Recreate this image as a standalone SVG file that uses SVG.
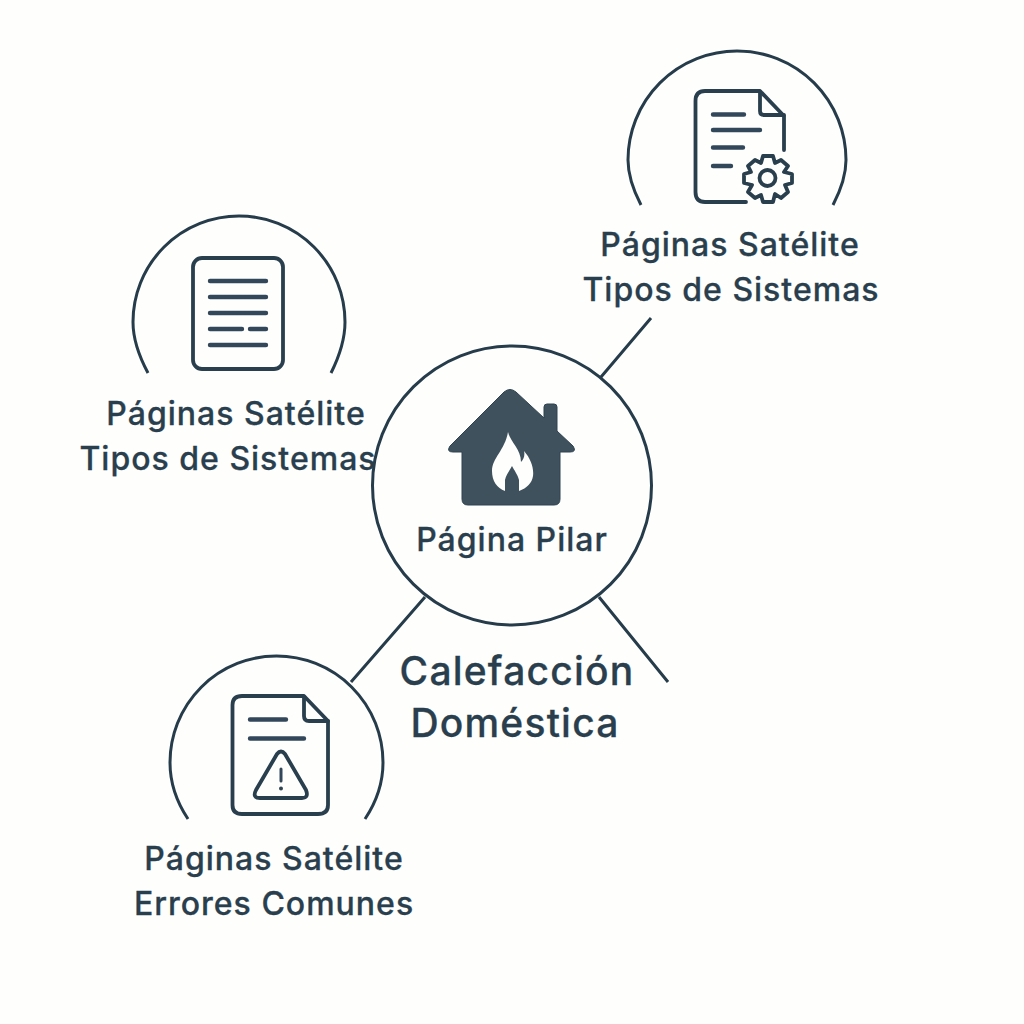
<svg xmlns="http://www.w3.org/2000/svg" width="1024" height="1024" viewBox="0 0 1024 1024">
<style>
.s{fill:none;stroke:#263c4a;stroke-width:3;stroke-linecap:butt}
.i{fill:none;stroke:#2a3f4d;stroke-width:3.8;stroke-linejoin:round;stroke-linecap:round}
.l{fill:none;stroke:#33475a;stroke-width:4.400;stroke-linecap:round}
text{font-family:Inter,"Liberation Sans",sans-serif;font-weight:500;fill:#2a3f4e;stroke:#2a3f4e;stroke-width:.3;text-anchor:middle;font-size:32px;letter-spacing:1px}
.t{font-size:39px;letter-spacing:1.200px}
</style>
<rect width="1024" height="1024" fill="#fefefd"/>
<g id="connectors">
<path class="s" d="M601 377L651 318M425 597L351 682M599 597L668 682"/>
</g>
<g id="pilar">
<circle class="s" cx="512" cy="485.500" r="139.500"/>
<path fill="#3f515d" stroke="#2f4351" d="M504 392Q510 387 516 392L544 418V407Q544 404 547 404H554Q557 404 557 407V431L573 446Q577 452 570 452H560V499Q560 505 554 505H468Q462 505 462 499V452H453Q446 452 450 446Z"/>
<path fill="#fefefd" d="M508 432C511 443 521 449 521 462C524 459 525 455 524 451C531 459 534 468 533 476C532 483 527 488 519 491V480C518 475 514 470 512 466C510 470 506 475 505 480V491C497 488 492 481 492 471C492 458 505 450 508 432Z"/>
<text x="512" y="551">Página Pilar</text>
<text class="t" x="517" y="685">Calefacción</text>
<text class="t" x="515" y="737">Doméstica</text>
</g>
<g id="satelite-tr">
<path class="s" d="M641 205Q628 180 628 160A109 109 0 0 1 846 160Q846 180 833 205"/>
<path class="i" d="M746 202H705Q695.500 202 695.500 192V101Q695.500 91 705 91H760L784 116V150"/>
<path class="i" d="M760 92V111Q760 115 764 115H784"/>
<path class="l" d="M713 114.500H744M713 130H760M713 147.500H743M713 166H731"/>
<path class="i" d="M763 156H773L775 163L781 160L788 166L784 172L792 174V183L785 185L788 192L781 198L775 194L773 202H763L761 195L755 198L748 192L752 185L744 183V174L751 172L748 166L755 160L761 163Z"/>
<circle class="i" cx="767.500" cy="178" r="8"/>
<text x="730" y="256">Páginas Satélite</text>
<text x="731" y="301">Tipos de Sistemas</text>
</g>
<g id="satelite-l">
<path class="s" d="M148 373Q133 345 133 322A106 106 0 0 1 345 322Q345 345 331 373"/>
<rect class="i" x="193" y="258" width="90" height="111" rx="9"/>
<path class="l" d="M210 281H266M210 297H266M210 313H266M210 329H242M250 329H266M210 345H266"/>
<text x="236" y="425">Páginas Satélite</text>
<text x="228" y="470">Tipos de Sistemas</text>
</g>
<g id="satelite-b">
<path class="s" d="M188 819Q170 792 170 762.500A106.500 106.500 0 0 1 383 762.500Q383 792 365 819"/>
<path class="i" d="M242 696H304L328 721V805Q328 814 318 814H242Q232.500 814 232.500 805V705Q232.500 696 242 696Z"/>
<path class="i" d="M304 697V716Q304 721 309 721H328"/>
<path class="l" d="M250 719.500H286M250 738.500H304"/>
<path class="i" d="M277 754Q281 749 285 754L306 790Q309 798 302 798H260Q252 798 256 790Z"/>
<path class="l" d="M281 769V781" style="stroke-width:3"/>
<circle cx="281" cy="788.500" r="2" fill="#2f4351"/>
<text x="274" y="870">Páginas Satélite</text>
<text x="274" y="915">Errores Comunes</text>
</g>
</svg>
